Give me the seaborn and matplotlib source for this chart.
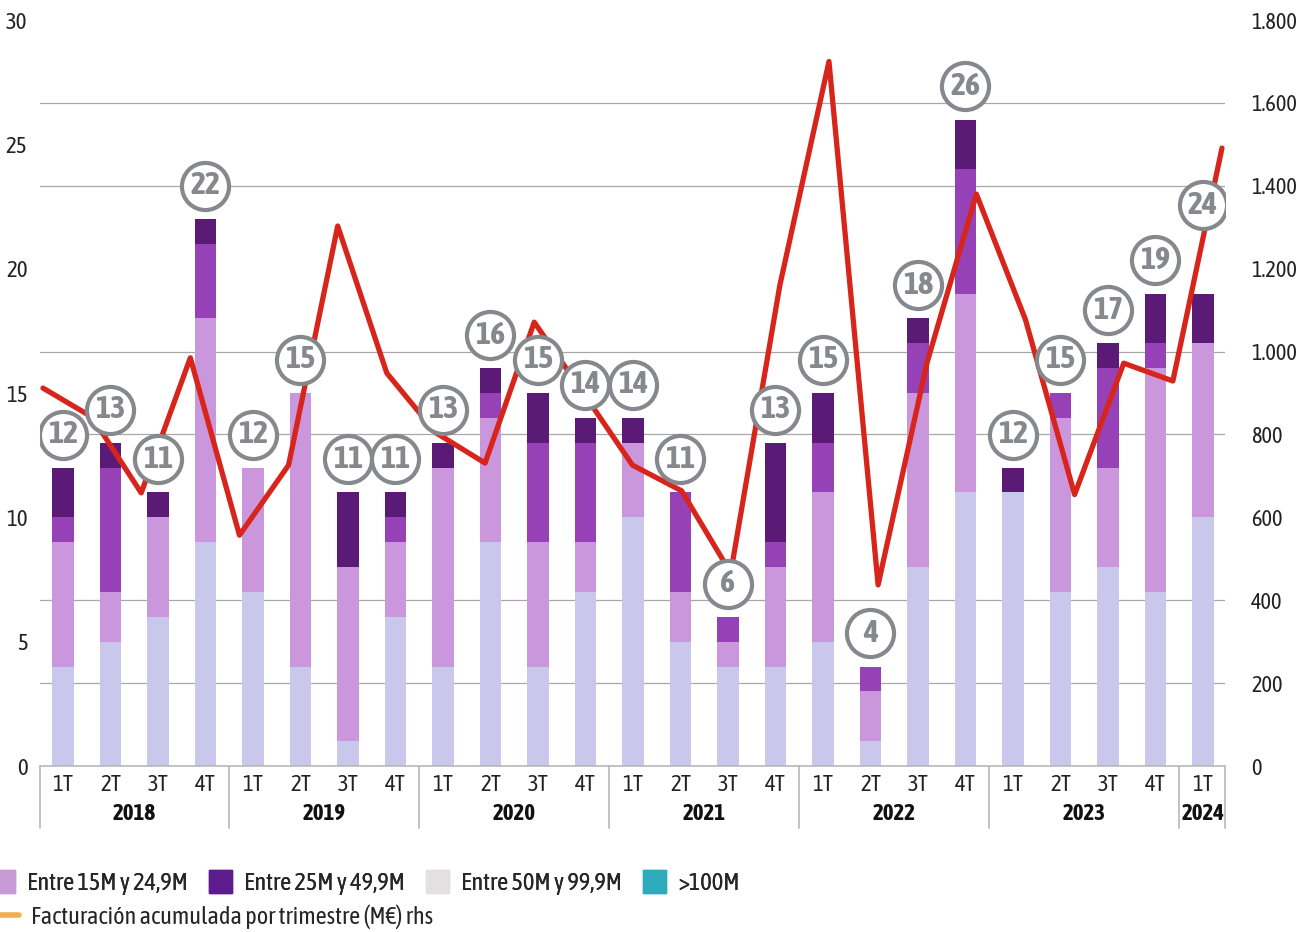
import numpy as np
import pandas as pd
import seaborn as sns
import matplotlib.pyplot as plt
import matplotlib.transforms as mtransforms
import matplotlib.patheffects as pe
from matplotlib import font_manager as fm
from matplotlib.patches import Patch
from matplotlib.lines import Line2D

# Datos (operaciones por trimestre y tramo)
trimestres = ['1T', '2T', '3T', '4T'] * 6 + ['1T']
anios = ['2018'] * 4 + ['2019'] * 4 + ['2020'] * 4 + ['2021'] * 4 + ['2022'] * 4 + ['2023'] * 4 + ['2024']

tramo_1 = [4, 5, 6, 9, 7, 4, 1, 6, 4, 9, 4, 7, 10, 5, 4, 4, 5, 1, 8, 11, 11, 7, 8, 7, 10]
tramo_2 = [5, 2, 4, 9, 5, 11, 7, 3, 8, 5, 5, 2, 3, 2, 1, 4, 6, 2, 7, 8, 0, 7, 4, 9, 7]
tramo_3 = [1, 5, 0, 3, 0, 0, 0, 1, 0, 1, 4, 4, 0, 4, 1, 1, 2, 1, 2, 5, 0, 1, 4, 1, 0]
tramo_4 = [2, 1, 1, 1, 0, 0, 3, 1, 1, 1, 2, 1, 1, 0, 0, 4, 2, 0, 1, 2, 1, 0, 1, 2, 2]

etiquetas = [12, 13, 11, 22, 12, 15, 11, 11, 13, 16, 15, 14, 14, 11, 6, 13, 15, 4, 18, 26, 12, 15, 17, 19, 24]

# Facturacion acumulada por trimestre (M EUR), eje derecho
facturacion = [912, 842, 659, 985, 557, 726, 1303, 948, 804, 731, 1071, 900, 726,
               664, 466, 1160, 1700, 437, 975, 1380, 1077, 655, 972, 929, 1491]

colores_barras = ['#C9C8EC', '#CA96DC', '#9641B6', '#5B1A76']
gris = '#85888C'
rojo = '#D8251C'

sns.set_theme(style='white')


def peso(f):
    w = f.weight
    if isinstance(w, str):
        w = fm.weight_dict.get(w, 400)
    return w


# buscar una fuente estrecha instalada (mejor si tiene negrita)
fuentes = fm.fontManager.ttflist
estrechas = sorted({f.name for f in fuentes if 'Narrow' in f.name or 'Condensed' in f.name})
familia = 'DejaVu Sans'
negrita = True
if estrechas:
    con_negrita = [n for n in estrechas if any(f.name == n and peso(f) >= 600 for f in fuentes)]
    familia = con_negrita[0] if con_negrita else estrechas[0]
    negrita = bool(con_negrita)
plt.rcParams['font.family'] = [familia, 'DejaVu Sans']
k = 1.0 if estrechas else 0.82


def efecto(color):
    # si la fuente no tiene negrita se engrosa el trazo
    return [] if negrita else [pe.withStroke(linewidth=1.3, foreground=color)]


df = pd.DataFrame({'periodo': [a + '-' + t for a, t in zip(anios, trimestres)],
                   'anio': anios, 'trimestre': trimestres,
                   't1': tramo_1, 't2': tramo_2, 't3': tramo_3, 't4': tramo_4})
df['c1'] = df['t1']
df['c2'] = df['c1'] + df['t2']
df['c3'] = df['c2'] + df['t3']
df['c4'] = df['c3'] + df['t4']
df['pos'] = np.arange(len(df))

fig = plt.figure(figsize=(13.1, 9.32), dpi=100)
rect = [0.0305, 0.1781, 0.9046, 0.8004]
ax = fig.add_axes(rect)

# barras apiladas: se dibuja primero el acumulado mayor
for col, color in zip(['c4', 'c3', 'c2', 'c1'], colores_barras[::-1]):
    sns.barplot(data=df, x='periodo', y=col, color=color, saturation=1, width=0.46,
                errorbar=None, linewidth=0, ax=ax)

ax.set_xlim(-0.484, 24.463)
ax.set_ylim(0, 30)
ax.set_yticks(range(0, 31, 5))
ax.set_yticks(np.linspace(0, 30, 10), minor=True)
ax.grid(which='minor', axis='y', color='#A8A8A8', lw=0.9)
ax.grid(which='major', axis='y', visible=False)
ax.set_axisbelow(True)
ax.tick_params(axis='y', which='both', length=0, pad=9, labelsize=16.5 * k, labelcolor='#222222')
ax.set_xticks(range(len(df)), df['trimestre'])
ax.tick_params(axis='x', length=0, pad=6, labelsize=16.5 * k, labelcolor='#222222')
ax.set_xlabel('')
ax.set_ylabel('')
for s in ['top', 'right', 'left']:
    ax.spines[s].set_visible(False)
ax.spines['bottom'].set_color('#B8B8B8')
ax.spines['bottom'].set_linewidth(1.2)

# años y separadores bajo el eje
trans = mtransforms.blended_transform_factory(ax.transData, ax.transAxes)
for anio, grupo in df.groupby('anio'):
    xc = (grupo['pos'].min() + grupo['pos'].max()) / 2
    ax.text(xc, -0.064, anio, transform=trans, ha='center', va='center',
            fontsize=16.5 * k, fontweight='bold', color='#111111',
            path_effects=efecto('#111111'))
x0, x1 = ax.get_xlim()
limites = [x0] + [p - 0.5 for p in df['pos'][df['trimestre'] == '1T'][1:]] + [x1]
for b in limites:
    ax.plot([b, b], [0, -0.083], transform=trans, color='#B8B8B8', lw=1.2, clip_on=False)

# linea de facturacion (eje derecho)
ax2 = fig.add_axes(rect, label='facturacion')
ax2.set_zorder(1)
ax2.patch.set_visible(False)
sns.lineplot(x=np.arange(len(facturacion)), y=facturacion, color=rojo, lw=3.8, ax=ax2)
ax2.set_xlim(-0.061, 24.061)
ax2.set_ylim(0, 1800)
ax2.set_yticks(range(0, 1801, 200))
ax2.set_yticklabels([f'{v:,}'.replace(',', '.') for v in range(0, 1801, 200)])
ax2.yaxis.tick_right()
ax2.tick_params(axis='y', length=0, pad=19, labelsize=16 * k, labelcolor='#222222')
ax2.xaxis.set_visible(False)
for s in ax2.spines.values():
    s.set_visible(False)

# burbujas con el numero de operaciones
ax3 = fig.add_axes(rect, label='burbujas')
ax3.set_zorder(2)
ax3.set_xlim(ax.get_xlim())
ax3.set_ylim(0, 30)
ax3.axis('off')
y_burbuja = [lab + 1.33 if lab == tot else lab - 1.44 for lab, tot in zip(etiquetas, df['c4'])]
sns.scatterplot(x=df['pos'], y=y_burbuja, s=1150, color='white', edgecolor=gris,
                linewidth=3, ax=ax3, legend=False)
for x, y, lab in zip(df['pos'], y_burbuja, etiquetas):
    ax3.text(x, y, str(lab), ha='center', va='center', fontsize=23 * k,
             fontweight='bold', color=gris, path_effects=efecto(gris))

# leyenda (recortada por el borde izquierdo, como en el original)
h1 = [Patch(color='#C79AD6', label='Entre 15M y 24,9M'),
      Patch(color='#5E1B8E', label='Entre 25M y 49,9M'),
      Patch(color='#E4E0E2', label='Entre 50M y 99,9M'),
      Patch(color='#2DAABB', label='>100M')]
leg1 = fig.legend(handles=h1, loc='upper left', bbox_to_anchor=(-0.0061, 0.066), ncol=4,
                  frameon=False, fontsize=17.5 * k, handlelength=0.95, handleheight=1.05,
                  handletextpad=0.5, columnspacing=0.86, borderpad=0, borderaxespad=0)
fig.add_artist(leg1)
h2 = [Line2D([0], [0], color='#F0B050', lw=4, label='Facturación acumulada por trimestre (M€) rhs')]
fig.legend(handles=h2, loc='upper left', bbox_to_anchor=(-0.002, 0.03), frameon=False,
           fontsize=17.5 * k, handlelength=0.9, handletextpad=0.5, borderpad=0, borderaxespad=0)

fig.savefig('out.png', dpi=100)
